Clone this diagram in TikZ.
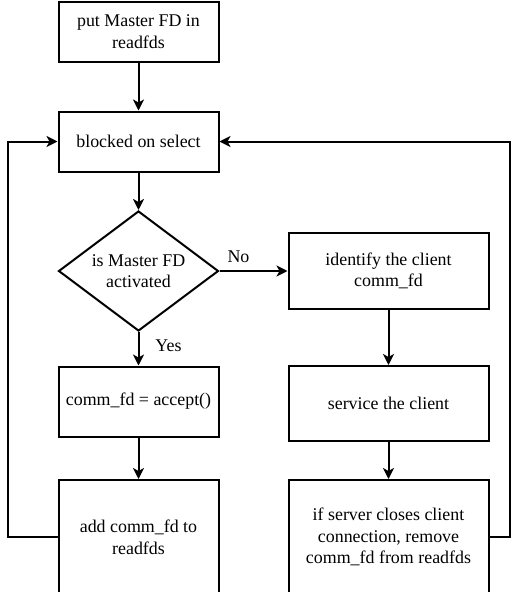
\documentclass[tikz,border=0pt]{standalone}
\usepackage{fontspec}
\setmainfont{Liberation Serif}
\usetikzlibrary{shapes.geometric,arrows.meta}
\begin{document}
\begin{tikzpicture}[
  font=\fontsize{17.9}{21.6}\selectfont,
  block/.style={draw, rectangle, line width=2pt, align=center, minimum width=160pt},
  wideblock/.style={draw, rectangle, line width=2pt, align=center, minimum width=200pt},
  decision/.style={draw, diamond, line width=2pt, align=center, aspect=1.333, inner sep=0pt, minimum width=160pt, minimum height=120pt},
  flow/.style={line width=2pt, -{Stealth[length=11pt,width=11pt,inset=3pt]}}
]
\useasboundingbox (0,0) rectangle (517pt,-592pt);
\node (put) at (138.5pt,-31.5pt) [block, minimum height=60pt] {put Master FD in\\readfds};
\node (blocked) [block, minimum height=60pt, node distance=110pt, below of=put] {blocked on select};
\node (master) [decision, node distance=129.5pt, below of=blocked] {is Master FD\\activated};
\node (accept) [block, minimum height=70pt, node distance=130.5pt, below of=master] {comm\_fd = accept()};
\node (add) [block, minimum height=114pt, node distance=135.5pt, below of=accept] {add comm\_fd to\\readfds};
\node (identify) [wideblock, minimum height=76pt, node distance=250pt, right of=master] {identify the client\\comm\_fd};
\node (service) [wideblock, minimum height=75pt, node distance=132.5pt, below of=identify] {service the client};
\node (remove) [wideblock, minimum height=114pt, node distance=133.5pt, below of=service] {if server closes client\\connection, remove\\comm\_fd from readfds};
\node (nolabel) [node distance=100pt, right of=master, yshift=14pt] {No};
\node (yeslabel) [node distance=75pt, below of=master, xshift=30pt] {Yes};

\draw [flow](put)--(blocked);
\draw [flow](blocked)--(master);
\draw [flow](master)--(accept);
\draw [flow](accept)--(add);
\draw [flow](master)--(identify);
\draw [flow](identify)--(service);
\draw [flow](service)--(remove);
\draw [flow](add.west)--++(-50pt,0)|-(blocked.west);
\draw [flow](remove.east)--++(20pt,0)|-(blocked.east);
\end{tikzpicture}
\end{document}
